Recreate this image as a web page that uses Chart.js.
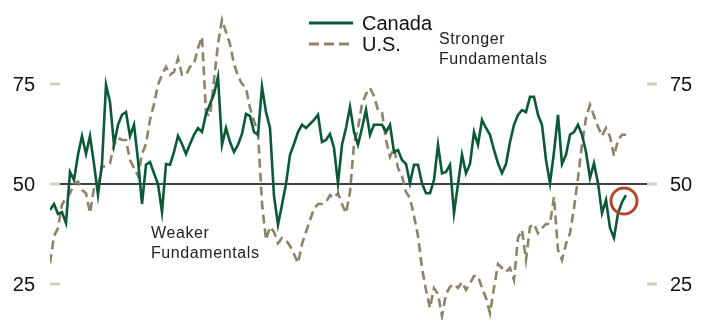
<!DOCTYPE html>
<html>
<head>
<meta charset="utf-8">
<script src="https://cdn.jsdelivr.net/npm/chart.js@4"></script>
<style>
  body { margin: 0; background: #fff; }
  #wrap { width: 707px; height: 320px; position: relative; }
</style>
</head>
<body>
<div id="wrap"><canvas id="myChart"></canvas></div>
<script>
// monthly readings, one per step
const canada = [
    43.5, 45, 42.5, 43, 40.2, 53, 51, 57.3, 62, 57.5,
    62, 55, 47.3, 55, 74.8, 70.5, 59.8, 64.8, 67.3, 68,
    62, 64.8, 56, 45, 54.8, 55.5, 52.7, 50, 43, 55,
    54.8, 58, 62, 60, 57.5, 60, 62.3, 64, 63, 67.5,
    70, 72.5, 76.8, 59.8, 64, 60.5, 58, 59.8, 62.5, 67.5,
    67, 63, 62.3, 74.3, 68, 64, 47, 39.8, 44.8, 50,
    57.3, 60, 63, 64.8, 64, 65, 66, 67.3, 60.5, 61,
    62.5, 59, 50.2, 59.8, 64, 69.3, 63, 59.8, 64, 68.5,
    62.3, 64.8, 64.8, 64.8, 63, 64.8, 58, 58.5, 56, 55,
    50.2, 54.8, 54.8, 50.2, 47.7, 47.7, 51, 59.8, 52.7, 53,
    54.8, 42.7, 50, 57.3, 52.7, 55, 63, 59.8, 66, 64,
    62.3, 58.5, 55.2, 52.7, 55, 60.5, 64.8, 67.3, 68.5, 68,
    71.8, 71.8, 67.3, 64.8, 56, 50.2, 58, 67.3, 55, 57.3,
    62.3, 63, 64.8, 62.3, 58, 51.5, 55.2, 50.2, 42.7, 46,
    39, 36.5, 42.7, 45.5, 47.2
];
const us = [
    30.2, 37, 39, 44.8, 46.5, 47.7, 50, 50.6, 48.5, 47.7,
    42.7, 49, 49.3, 54.3, 54.5, 55.2, 59.8, 61.5, 61, 61,
    56, 54, 52, 57.5, 60, 66, 70, 74.8, 77.3, 79.3,
    77.3, 78, 81.4, 77.3, 77.3, 79.3, 80, 84, 86.8, 67.7,
    67, 76, 85, 91, 88, 85, 80, 77, 75, 74,
    69, 65.8, 62.7, 45.2, 36, 39.3, 38, 35.2, 36.5, 36,
    34.5, 32.5, 30.2, 35, 38, 41, 43.8, 45, 45, 45.5,
    47.2, 46.5, 47.7, 45, 42.7, 48, 60, 64, 70, 72.5,
    74, 72, 68.5, 68, 61, 56.8, 59, 54, 52, 48,
    46.5, 42, 37, 29, 23.5, 19, 24, 22.5, 17, 22.5,
    24.3, 25, 24, 25.5, 23.5, 25.2, 27, 27, 24, 21.5,
    17.7, 24, 30, 29, 28, 29, 26, 36.5, 38.5, 31,
    39.3, 40, 37.7, 39, 40, 40, 46.8, 33.5, 31, 35,
    37.7, 44, 51.5, 60, 66.5, 69.8, 67, 64.3, 62, 64,
    61.8, 57, 61, 62.3, 62.3
];
const yTicks = [25, 50, 75];
const seriesNames = ['Canada', 'U.S.'];
const notes = [
    { lines: ['Stronger', 'Fundamentals'], at: [97.25, 85] },
    { lines: ['Weaker', 'Fundamentals'], at: [25.25, 36.5] }
];
const latest = [143.5, 45.75]; // circled reading

const green = '#0a5a38';
const taupe = '#8e8268';
const font = '"Liberation Sans", Arial, sans-serif';

const toPoints = arr => arr.map((v, i) => ({ x: i, y: v }));

const decor = {
    id: 'decor',
    beforeDatasetsDraw(chart) {
        const c = chart.ctx, y = chart.scales.y, a = chart.chartArea;
        c.save();
        c.strokeStyle = '#000';
        c.lineWidth = 1.5;
        c.beginPath();
        c.moveTo(a.left, y.getPixelForValue(50));
        c.lineTo(a.right, y.getPixelForValue(50));
        c.stroke();
        c.restore();
    },
    afterDatasetsDraw(chart) {
        const c = chart.ctx, x = chart.scales.x, y = chart.scales.y, a = chart.chartArea;
        c.save();
        // y ticks on both sides
        c.font = '20px ' + font;
        c.fillStyle = '#111';
        c.textBaseline = 'middle';
        yTicks.forEach(t => {
            const py = y.getPixelForValue(t);
            c.strokeStyle = '#d4cebf';
            c.lineWidth = 3;
            c.beginPath();
            c.moveTo(a.left, py); c.lineTo(a.left + 10, py);
            c.moveTo(a.right - 8, py); c.lineTo(a.right + 2, py);
            c.stroke();
            c.textAlign = 'right';
            c.fillText(String(t), 35, py + 1);
            c.textAlign = 'left';
            c.fillText(String(t), 670, py + 1);
        });
        // legend
        c.font = '20px ' + font;
        c.textAlign = 'left';
        c.textBaseline = 'alphabetic';
        chart.data.datasets.forEach((ds, i) => {
            const ly = 23 + i * 21;
            c.strokeStyle = ds.borderColor;
            c.lineWidth = 3;
            c.setLineDash(ds.borderDash ? [10, 5] : []);
            c.beginPath();
            c.moveTo(309, ly); c.lineTo(353, ly);
            c.stroke();
            c.setLineDash([]);
            c.fillStyle = '#111';
            c.fillText(ds.label, 362, ly + 7);
        });
        // notes
        c.font = '16px ' + font;
        c.letterSpacing = '0.6px';
        c.fillStyle = '#222';
        notes.forEach(n => {
            const px = x.getPixelForValue(n.at[0]);
            const py = y.getPixelForValue(n.at[1]);
            n.lines.forEach((s, k) => c.fillText(s, px, py + k * 20));
        });
        c.letterSpacing = '0px';
        // circle on latest reading
        c.strokeStyle = '#b2472a';
        c.lineWidth = 3;
        c.beginPath();
        c.arc(x.getPixelForValue(latest[0]), y.getPixelForValue(latest[1]), 13, 0, Math.PI * 2);
        c.stroke();
        c.restore();
    }
};

const ctx = document.getElementById('myChart');
const myChart = new Chart(ctx, {
    type: 'line',
    data: {
        datasets: [{
            label: seriesNames[0],
            data: toPoints(canada),
            borderColor: green,
            borderWidth: 2.6,
            pointRadius: 0,
            tension: 0,
            order: 0
        }, {
            label: seriesNames[1],
            data: toPoints(us),
            borderColor: taupe,
            borderWidth: 2.6,
            borderDash: [9, 5],
            pointRadius: 0,
            tension: 0,
            order: 1
        }]
    },
    options: {
        responsive: true,
        maintainAspectRatio: false,
        animation: false,
        layout: { padding: { left: 50, right: 52, top: 10, bottom: 0 } },
        plugins: { legend: { display: false }, tooltip: { enabled: false } },
        scales: {
            x: { type: 'linear', min: 0, max: 151.25, display: false },
            y: { min: 16, max: 93.5, display: false }
        }
    },
    plugins: [decor]
});
</script>
</body>
</html>
